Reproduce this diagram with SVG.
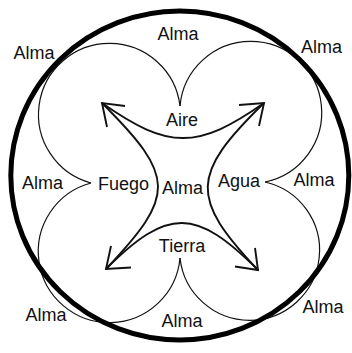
<svg xmlns="http://www.w3.org/2000/svg" width="352" height="353" viewBox="0 0 352 353">
<style>
.lobe{fill:none;stroke:#111;stroke-width:1.2}
.star{fill:none;stroke:#111;stroke-width:1.9;stroke-linejoin:miter;stroke-linecap:butt}
.ring{fill:none;stroke:#000;stroke-width:5}
text{font-family:"Liberation Sans",Arial,sans-serif;font-size:18px;fill:#111;text-anchor:middle}
</style>
<rect width="352" height="353" fill="#fff"/>
<g id="connectors">
<path class="lobe" d="M91,183 A71,71 0 1 1 180,106"/>
<path class="lobe" d="M180,106 A71,71 0 1 1 265,182"/>
<path class="lobe" d="M265,182 A70,70 0 1 1 180,258"/>
<path class="lobe" d="M180,258 A71,71 0 1 1 91,183"/>
<path class="star" d="M102,103 C168.7,149.7 197.3,149.7 264,103"/>
<path class="star" d="M102,103 C176,177 176,195 106,269"/>
<path class="star" d="M264,103 C190,175 190,198 258,270"/>
<path class="star" d="M106,269 C168,207 196,208 258,270"/>
<polyline class="star" points="125,106 102,103 107,127"/>
<polyline class="star" points="239,105 264,103 259,126"/>
<polyline class="star" points="131,267.5 106,269 111,246"/>
<polyline class="star" points="235,266.5 258,270 255,248"/>
</g>
<ellipse id="ring" class="ring" cx="179.8" cy="175.5" rx="169" ry="164.5"/>
<g id="alma-top"><text x="178" y="40">Alma</text></g>
<g id="alma-tl"><text x="34" y="59">Alma</text></g>
<g id="alma-tr"><text x="321.5" y="53">Alma</text></g>
<g id="alma-l"><text x="42.5" y="189">Alma</text></g>
<g id="fuego"><text x="123.5" y="190">Fuego</text></g>
<g id="alma-c"><text x="182.5" y="194">Alma</text></g>
<g id="agua"><text x="239" y="187">Agua</text></g>
<g id="alma-r"><text x="314" y="186">Alma</text></g>
<g id="aire"><text x="182" y="126">Aire</text></g>
<g id="tierra"><text x="182" y="252">Tierra</text></g>
<g id="alma-bl"><text x="46" y="321">Alma</text></g>
<g id="alma-b"><text x="182" y="327">Alma</text></g>
<g id="alma-br"><text x="323" y="313">Alma</text></g>
</svg>
